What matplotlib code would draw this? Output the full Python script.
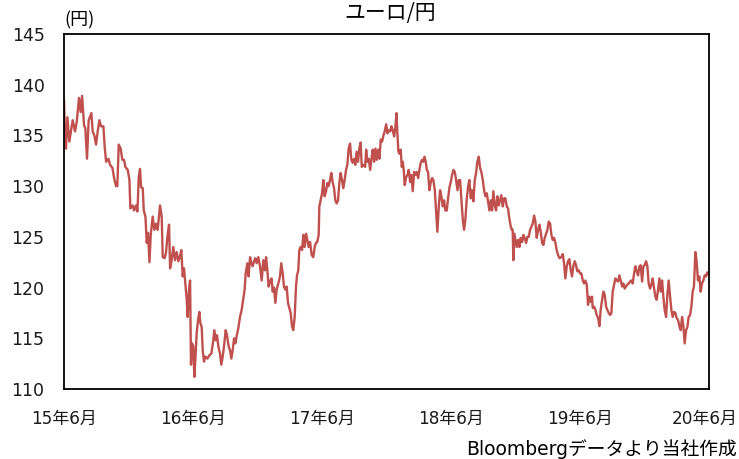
import matplotlib
matplotlib.use('Agg')
import matplotlib.pyplot as plt
import matplotlib.transforms as mtransforms

# EUR/JPY (time in decimal years)
t = [
    2015.417, 2015.422, 2015.432, 2015.443, 2015.458, 2015.484, 2015.502, 2015.515, 2015.533, 2015.546,
    2015.557, 2015.572, 2015.582, 2015.595, 2015.608, 2015.629, 2015.639, 2015.652, 2015.665, 2015.678,
    2015.691, 2015.704, 2015.722, 2015.732, 2015.743, 2015.761, 2015.774, 2015.792, 2015.805, 2015.820,
    2015.830, 2015.841, 2015.856, 2015.869, 2015.882, 2015.892, 2015.911, 2015.924, 2015.931, 2015.949,
    2015.960, 2015.975, 2015.986, 2015.996, 2016.006, 2016.014, 2016.027, 2016.035, 2016.048, 2016.058,
    2016.068, 2016.079, 2016.089, 2016.104, 2016.117, 2016.130, 2016.143,
    2016.161, 2016.174, 2016.182, 2016.197, 2016.208, 2016.218, 2016.231, 2016.239, 2016.251, 2016.264,
    2016.277, 2016.290, 2016.303, 2016.316, 2016.326, 2016.337, 2016.347, 2016.357, 2016.368, 2016.375,
    2016.386, 2016.394, 2016.401, 2016.409, 2016.419, 2016.427, 2016.435, 2016.445, 2016.456, 2016.466,
    2016.474, 2016.484, 2016.492, 2016.502, 2016.512, 2016.528, 2016.543, 2016.559, 2016.574, 2016.582,
    2016.593, 2016.603, 2016.613, 2016.626, 2016.636, 2016.647, 2016.657, 2016.670, 2016.680, 2016.693,
    2016.704, 2016.714, 2016.724, 2016.735, 2016.745, 2016.755, 2016.768, 2016.781, 2016.794, 2016.807,
    2016.817, 2016.825, 2016.838, 2016.848, 2016.859, 2016.869, 2016.879, 2016.890, 2016.900, 2016.910,
    2016.923, 2016.936,
    2016.949, 2016.962, 2016.975, 2016.983, 2016.993, 2017.003, 2017.014, 2017.026, 2017.034, 2017.045,
    2017.055, 2017.065, 2017.078, 2017.091, 2017.101, 2017.112, 2017.122, 2017.132, 2017.143, 2017.153,
    2017.163, 2017.174, 2017.184, 2017.194, 2017.205, 2017.215, 2017.223, 2017.233, 2017.241, 2017.251,
    2017.262, 2017.272, 2017.282, 2017.293, 2017.303, 2017.313, 2017.324, 2017.337, 2017.349, 2017.360,
    2017.370, 2017.380, 2017.391, 2017.396, 2017.406, 2017.417, 2017.427, 2017.437, 2017.448, 2017.458,
    2017.468, 2017.479, 2017.489, 2017.499, 2017.510, 2017.520, 2017.530, 2017.541, 2017.551, 2017.561,
    2017.572, 2017.582, 2017.592, 2017.603, 2017.613, 2017.623, 2017.634, 2017.644, 2017.654, 2017.665,
    2017.675, 2017.685, 2017.696, 2017.706, 2017.716,
    2017.725, 2017.738, 2017.751, 2017.759, 2017.769, 2017.779, 2017.790, 2017.800, 2017.810, 2017.821,
    2017.831, 2017.841, 2017.852, 2017.862, 2017.872, 2017.883, 2017.893, 2017.903, 2017.914, 2017.924,
    2017.934, 2017.945, 2017.955, 2017.965, 2017.976, 2017.986, 2017.994, 2018.001, 2018.009, 2018.017,
    2018.027, 2018.035, 2018.043, 2018.050, 2018.058, 2018.069, 2018.079, 2018.089, 2018.100, 2018.110,
    2018.120, 2018.131, 2018.141, 2018.151, 2018.162, 2018.172, 2018.182, 2018.193, 2018.203, 2018.211,
    2018.221, 2018.229, 2018.239, 2018.249, 2018.260, 2018.270, 2018.280, 2018.291, 2018.301, 2018.311,
    2018.322, 2018.332, 2018.342, 2018.353, 2018.363, 2018.373, 2018.384, 2018.394, 2018.405, 2018.415,
    2018.425, 2018.436, 2018.446, 2018.456, 2018.467, 2018.477,
    2018.487, 2018.497, 2018.508, 2018.518, 2018.528, 2018.539, 2018.549, 2018.559, 2018.570, 2018.580,
    2018.590, 2018.601, 2018.611, 2018.621, 2018.632, 2018.642, 2018.652, 2018.663, 2018.673, 2018.683,
    2018.694, 2018.704, 2018.714, 2018.725, 2018.735, 2018.745, 2018.756, 2018.766, 2018.776, 2018.787,
    2018.797, 2018.807, 2018.818, 2018.828, 2018.838, 2018.849, 2018.859, 2018.869, 2018.880, 2018.888,
    2018.895, 2018.900, 2018.908, 2018.916, 2018.926, 2018.937, 2018.947, 2018.957, 2018.968, 2018.978,
    2018.988, 2018.999, 2019.009, 2019.019, 2019.030, 2019.040, 2019.050, 2019.061, 2019.071, 2019.081,
    2019.092, 2019.102, 2019.112, 2019.123, 2019.133, 2019.143, 2019.154, 2019.164, 2019.174, 2019.185,
    2019.195, 2019.205, 2019.216, 2019.226, 2019.236, 2019.247, 2019.257,
    2019.272, 2019.283, 2019.293, 2019.303, 2019.314, 2019.324, 2019.334, 2019.345, 2019.355, 2019.365,
    2019.376, 2019.386, 2019.396, 2019.407, 2019.417, 2019.427, 2019.438, 2019.448, 2019.458, 2019.469,
    2019.479, 2019.489, 2019.500, 2019.510, 2019.515, 2019.526, 2019.536, 2019.546, 2019.557, 2019.567,
    2019.577, 2019.588, 2019.598, 2019.608, 2019.619, 2019.629, 2019.639, 2019.650, 2019.660, 2019.670,
    2019.681, 2019.691, 2019.701, 2019.712, 2019.722, 2019.732, 2019.743, 2019.753, 2019.763, 2019.774,
    2019.784, 2019.794, 2019.805, 2019.815, 2019.825, 2019.836, 2019.846, 2019.856, 2019.867, 2019.877,
    2019.887, 2019.898, 2019.908, 2019.918, 2019.929, 2019.939, 2019.949, 2019.960, 2019.970, 2019.980,
    2019.991, 2020.001, 2020.011, 2020.022, 2020.032, 2020.042, 2020.053, 2020.063, 2020.073, 2020.084,
    2020.094, 2020.104, 2020.115, 2020.125, 2020.135, 2020.146, 2020.156, 2020.166, 2020.177, 2020.187,
    2020.197, 2020.208, 2020.218, 2020.228, 2020.239, 2020.249, 2020.259, 2020.270, 2020.280, 2020.290,
    2020.300, 2020.311, 2020.321, 2020.331, 2020.342, 2020.352, 2020.362, 2020.373, 2020.383, 2020.393,
    2020.404, 2020.414,
]
eurjpy = [
    138.4, 136.0, 133.7, 136.8, 134.4, 136.5, 135.4, 136.3, 138.7, 137.3,
    138.9, 136.0, 135.7, 132.7, 136.5, 137.2, 135.4, 135.0, 134.1, 135.4,
    136.5, 135.9, 135.9, 133.9, 132.4, 132.7, 132.1, 131.8, 130.8, 130.0,
    130.0, 134.1, 133.7, 132.6, 132.6, 131.9, 131.6, 130.6, 127.8, 128.1,
    127.6, 128.1, 127.5, 130.9, 131.7, 129.9, 129.8, 127.6, 127.0, 124.4,
    125.4, 122.5, 125.2, 127.0, 125.7, 126.3, 125.7,
    128.1, 127.0, 123.0, 122.9, 123.5, 125.0, 126.2, 121.9, 122.7, 124.0,
    122.7, 123.5, 122.6, 123.1, 123.7, 121.1, 121.9, 120.4, 118.8, 117.1,
    119.8, 120.7, 112.4, 114.5, 114.2, 111.2, 112.9, 115.5, 116.8, 117.6,
    116.5, 116.1, 113.8, 112.7, 113.2, 113.0, 113.3, 113.5, 114.8, 115.8,
    114.8, 115.3, 114.2, 113.5, 112.4, 113.2, 114.2, 115.8, 115.3, 114.2,
    113.8, 113.0, 113.8, 115.0, 114.5, 115.2, 116.0, 117.1, 117.8, 118.9,
    119.8, 121.4, 122.4, 121.1, 123.0, 122.4, 122.1, 122.6, 122.9, 122.4,
    123.0, 122.1,
    120.7, 122.7, 121.7, 123.0, 121.7, 120.1, 120.6, 120.9, 119.6, 120.0,
    118.5, 119.8, 120.4, 121.1, 122.4, 121.4, 120.1, 119.8, 120.1, 118.5,
    118.0, 117.5, 116.2, 115.8, 117.1, 120.1, 121.2, 121.7, 123.7, 124.0,
    123.7, 125.2, 124.0, 125.3, 124.7, 124.0, 124.5, 123.2, 123.0, 124.0,
    124.4, 124.5, 125.2, 128.0, 128.6, 129.3, 130.6, 129.0, 129.5, 130.3,
    130.0, 130.6, 131.3, 130.4, 129.8, 128.6, 128.3, 128.6, 130.3, 131.3,
    130.6, 129.8, 130.6, 131.6, 132.1, 133.7, 134.2, 132.6, 132.3, 132.7,
    132.1, 133.4, 132.4, 133.7, 134.3,
    131.9, 132.1, 131.9, 133.6, 132.4, 132.7, 131.6, 132.7, 133.6, 132.4,
    133.7, 132.6, 133.6, 132.7, 134.6, 134.4, 135.0, 135.4, 136.1, 135.2,
    135.5, 135.4, 135.9, 135.5, 134.9, 135.9, 137.2, 135.2, 133.4, 133.2,
    133.6, 131.9, 132.4, 131.6, 130.1, 130.9, 131.1, 131.6, 130.4, 131.1,
    129.5, 131.4, 131.1, 131.4, 130.8, 131.6, 132.3, 132.6, 132.4, 132.9,
    132.4, 131.6, 131.4, 129.6, 130.4, 130.8, 130.6, 129.6, 127.5, 125.5,
    128.0, 129.6, 129.0, 128.0, 128.6, 127.6, 127.6, 128.8, 129.9, 130.4,
    131.1, 131.6, 131.4, 130.6, 129.6, 130.6,
    130.6, 128.8, 126.7, 125.7, 126.7, 128.8, 129.9, 130.6, 128.8, 129.6,
    128.5, 130.6, 131.3, 132.4, 132.9, 131.8, 131.4, 130.6, 129.6, 129.0,
    129.3, 128.5, 127.6, 128.6, 127.6, 129.5, 128.1, 127.6, 129.0, 128.1,
    128.6, 129.1, 128.0, 128.8, 128.8, 128.0, 127.8, 126.8, 126.0, 125.7,
    125.7, 122.7, 125.3, 124.7, 124.0, 124.7, 124.0, 124.9, 124.5, 125.2,
    124.9, 124.4, 125.0, 125.0, 125.7, 126.0, 126.3, 127.1, 126.5, 124.9,
    125.7, 126.2, 125.5, 124.4, 124.2, 124.9, 125.3, 125.7, 126.5, 126.3,
    125.2, 124.7, 124.9, 124.4, 123.7, 123.2, 122.9,
    123.0, 123.3, 122.4, 120.9, 122.1, 122.6, 122.8, 121.7, 121.1, 122.1,
    122.6, 122.2, 121.6, 121.7, 121.4, 121.4, 120.7, 120.4, 120.7, 120.3,
    118.3, 119.1, 118.6, 119.1, 118.0, 118.1, 117.8, 117.3, 117.0, 116.2,
    117.8, 118.8, 119.6, 119.3, 118.1, 117.8, 117.5, 117.3, 117.5, 119.6,
    120.3, 120.9, 120.7, 120.6, 121.2, 120.7, 120.1, 120.4, 119.9, 120.1,
    120.3, 120.4, 120.6, 120.7, 120.4, 121.4, 122.1, 121.6, 121.2, 122.1,
    122.2, 120.6, 122.1, 122.2, 122.6, 122.1, 120.4, 119.9, 120.3, 120.9,
    119.9, 119.1, 118.8, 119.8, 120.9, 119.6, 120.7, 119.1, 117.8, 117.1,
    119.3, 120.7, 119.1, 117.8, 117.1, 117.6, 117.5, 117.0, 116.8, 116.2,
    115.8, 117.1, 116.2, 114.5, 115.8, 116.1, 117.1, 117.3, 118.1, 119.6,
    120.1, 123.5, 122.6, 120.7, 121.1, 119.6, 120.4, 120.7, 121.2, 121.1,
    121.5, 121.3,
]

tick_years = [15, 16, 17, 18, 19, 20]
tick_labels = ['%d年6月' % y for y in tick_years]

plt.rcParams['font.family'] = ['DejaVu Sans', 'Noto Sans CJK JP']

fig = plt.figure(figsize=(7.39, 4.59), dpi=100)
ax = fig.add_axes([64 / 739, 1 - 389 / 459, 645 / 739, 355 / 459])

ax.plot(t, eurjpy, color='#C0504D', lw=1.7)

ax.set_xlim(2015 + 5 / 12, 2020 + 5 / 12)
ax.set_ylim(110, 145)
ax.set_yticks(range(110, 146, 5))
ax.set_xticks([2000 + y + 5 / 12 for y in tick_years])
ax.set_xticklabels(tick_labels)
ax.tick_params(axis='both', length=0, labelsize=12.5, colors='#1a1a1a')
ax.tick_params(axis='y', pad=14)
ax.tick_params(axis='x', labelsize=12.2, pad=15)
for s in ax.spines.values():
    s.set_color('black')
    s.set_linewidth(1.3)

# keep the last date label inside the canvas
last = ax.get_xticklabels()[-1]
last.set_transform(last.get_transform() +
                   mtransforms.ScaledTranslation(-4 / 100, 0, fig.dpi_scale_trans))

fig.text(390 / 739, 1 - 13 / 459, 'ユーロ/円', ha='center', va='center',
         fontsize=15, family=['Noto Sans CJK JP', 'DejaVu Sans'])
fig.text(80 / 739, 1 - 20 / 459, '(円)', ha='center', va='center', fontsize=13,
         family=['Noto Sans CJK JP', 'DejaVu Sans'])
fig.text(737 / 739, 1 - 449 / 459, 'Bloombergデータより当社作成', ha='right', va='center',
         fontsize=13.5)

fig.savefig('out.png', dpi=100)
